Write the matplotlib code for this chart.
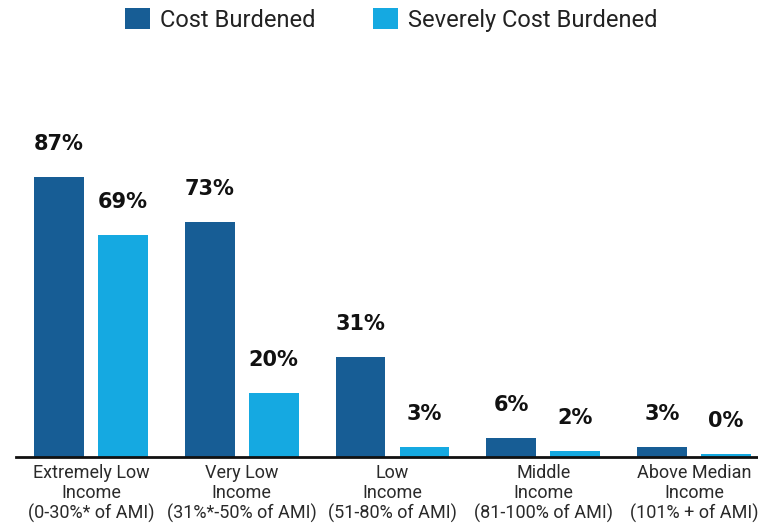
import matplotlib.pyplot as plt
import numpy as np

categories = [
    "Extremely Low\nIncome\n(0-30%* of AMI)",
    "Very Low\nIncome\n(31%*-50% of AMI)",
    "Low\nIncome\n(51-80% of AMI)",
    "Middle\nIncome\n(81-100% of AMI)",
    "Above Median\nIncome\n(101% + of AMI)",
]
cost_burdened = [87, 73, 31, 6, 3]
severely_burdened = [69, 20, 3, 2, 0.8]
severely_labels = [69, 20, 3, 2, 0]

dark = "#175D95"
light = "#15A9E1"
narrow = "Roboto"

fig = plt.figure(figsize=(7.58, 5.28), dpi=100)
ax = fig.add_axes([0.021, 0.1345, 0.979, 0.665])

x = np.arange(len(categories))
w = 0.33
off = 0.2125
b1 = ax.bar(x - off, cost_burdened, w, color=dark, label="Cost Burdened")
b2 = ax.bar(x + off, severely_burdened, w, color=light, label="Severely Cost Burdened")

for rect, v in zip(b1, cost_burdened):
    ax.annotate(f"{v}%", (rect.get_x() + rect.get_width() / 2, rect.get_height()),
                xytext=(0, 23), textcoords="offset pixels", ha="center", va="bottom",
                fontsize=15, fontweight="bold", color="#111111")
for rect, v in zip(b2, severely_labels):
    ax.annotate(f"{v}%", (rect.get_x() + rect.get_width() / 2, rect.get_height()),
                xytext=(0, 23), textcoords="offset pixels", ha="center", va="bottom",
                fontsize=15, fontweight="bold", color="#111111")

ax.set_xlim(-0.4975, 4.4245)
ax.set_ylim(0, 109.1)
ax.set_xticks(x)
ax.set_xticklabels(categories, family=narrow, fontsize=13, color="#2a2a2a",
                   linespacing=1.12)
ax.tick_params(axis="x", length=0, pad=5)
ax.set_yticks([])
for s in ["top", "right", "left"]:
    ax.spines[s].set_visible(False)
ax.spines["bottom"].set_linewidth(2)
ax.spines["bottom"].set_color("#111111")

leg = fig.legend(handles=[b1, b2], loc="center", bbox_to_anchor=(0.516, 0.962),
                 ncol=2, frameon=False, handlelength=1.06, handleheight=1.0,
                 handletextpad=0.42, columnspacing=2.45, borderaxespad=0, borderpad=0,
                 prop={"family": narrow, "size": 17})
for t in leg.get_texts():
    t.set_color("#222222")

fig.savefig("out.png", dpi=100)
